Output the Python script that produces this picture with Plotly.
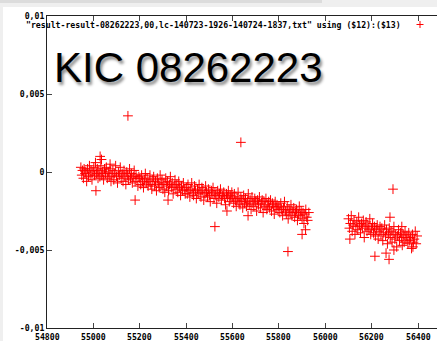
import plotly.graph_objects as go

# ---- data ----
x_a = [54946, 54950, 54953, 54957, 54960, 54964, 54968, 54971, 54975, 54979, 54983, 54986, 54990, 54994,
       54998, 55002, 55005, 55009, 55013, 55017, 55020, 55024, 55028, 55032, 55036, 55040, 55044, 55048]
y_a = [0.0003, -0.0002, 0.0001, -0.0004, 0.0002, -0.0001, 0.0000, -0.0006, 0.0002, -0.0003, 0.0004, -0.0002,
       0.0001, -0.0005, 0.0000, 0.0003, -0.0002, 0.0006, -0.0001, 0.0002, -0.0004, 0.0001, -0.0003, 0.0004,
       -0.0002, 0.0000, -0.0005, 0.0002]
x_b = [55052, 55056, 55060, 55064, 55068, 55072, 55076, 55080, 55084, 55088, 55092, 55096, 55100, 55104,
       55108, 55112, 55116, 55120, 55124, 55128, 55132, 55136, 55140, 55144, 55148, 55152, 55156, 55160,
       55164, 55168, 55172, 55176, 55180, 55184, 55188, 55192, 55196]
y_b = [-0.0001, 0.0003, -0.0004, 0.0000, -0.0003, 0.0002, -0.0006, -0.0002, 0.0001, -0.0005,
       -0.0001, 0.0004, -0.0003, -0.0007, 0.0000, -0.0002, 0.0003, -0.0004, -0.0001, -0.0006,
       0.0001, -0.0003, -0.0008, 0.0000, -0.0002, -0.0005, 0.0002, -0.0004, -0.0001, -0.0007,
       -0.0003, 0.0001, -0.0006, -0.0002, -0.0004, -0.0009, -0.0003]
x_c = [55200, 55204, 55208, 55212, 55216, 55220, 55224, 55228, 55232, 55236,
       55240, 55244, 55248, 55252, 55256, 55260, 55264, 55268, 55272, 55276,
       55280, 55284, 55288, 55292, 55296, 55300, 55304, 55308, 55312, 55316,
       55320, 55324, 55328, 55332, 55336, 55340, 55344, 55348, 55352, 55356,
       55360, 55364, 55368, 55372, 55376, 55380, 55384, 55388, 55392, 55396]
y_c = [-0.0004, -0.0008, -0.0002, -0.0006, -0.0010, -0.0005, -0.0001, -0.0007, -0.0004, -0.0009,
       -0.0006, -0.0002, -0.0008, -0.0011, -0.0005, -0.0003, -0.0009, -0.0006, -0.0012, -0.0004,
       -0.0007, -0.0010, -0.0002, -0.0008, -0.0005, -0.0011, -0.0007, -0.0013, -0.0004, -0.0009,
       -0.0006, -0.0012, -0.0008, -0.0003, -0.0010, -0.0007, -0.0014, -0.0009, -0.0005, -0.0011,
       -0.0008, -0.0013, -0.0006, -0.0010, -0.0015, -0.0009, -0.0012, -0.0007, -0.0011, -0.0014]
x_d = [55401, 55405, 55408, 55412, 55416, 55420, 55424, 55429, 55432, 55436,
       55440, 55444, 55449, 55452, 55456, 55460, 55464, 55468, 55472, 55476,
       55481, 55484, 55488, 55492, 55496, 55500, 55504, 55509, 55512, 55516,
       55520, 55524, 55528, 55532, 55536, 55541, 55544, 55548, 55552, 55556,
       55562, 55566, 55570, 55574, 55578, 55582, 55586, 55590, 55593, 55597]
y_d = [-0.0010, -0.0014, -0.0008, -0.0012, -0.0016, -0.0011, -0.0007, -0.0013, -0.0015, -0.0009,
       -0.0012, -0.0017, -0.0011, -0.0014, -0.0008, -0.0013, -0.0016, -0.0010, -0.0012, -0.0018,
       -0.0014, -0.0009, -0.0013, -0.0016, -0.0011, -0.0015, -0.0019, -0.0012, -0.0014, -0.0010,
       -0.0017, -0.0013, -0.0015, -0.0020, -0.0012, -0.0016, -0.0014, -0.0011, -0.0018, -0.0015,
       -0.0013, -0.0017, -0.0021, -0.0014, -0.0016, -0.0012, -0.0019, -0.0015, -0.0017, -0.0013]
x_e = [55601, 55605, 55608, 55612, 55616, 55620, 55624, 55628, 55632, 55636,
       55640, 55644, 55648, 55652, 55656, 55660, 55664, 55668, 55672, 55676,
       55680, 55684, 55688, 55692, 55696, 55700, 55704, 55708, 55712, 55716,
       55720, 55724, 55728, 55732, 55736, 55740, 55744, 55748, 55752, 55756,
       55760, 55764, 55768, 55772, 55776, 55780, 55784, 55788, 55792, 55796]
y_e = [-0.0016, -0.0020, -0.0014, -0.0018, -0.0022, -0.0017, -0.0013, -0.0019, -0.0021, -0.0016,
       -0.0018, -0.0023, -0.0015, -0.0020, -0.0017, -0.0022, -0.0019, -0.0014, -0.0021, -0.0018,
       -0.0024, -0.0016, -0.0020, -0.0022, -0.0017, -0.0019, -0.0025, -0.0018, -0.0021, -0.0016,
       -0.0023, -0.0020, -0.0018, -0.0026, -0.0019, -0.0022, -0.0017, -0.0024, -0.0021, -0.0019,
       -0.0023, -0.0018, -0.0025, -0.0020, -0.0022, -0.0027, -0.0019, -0.0023, -0.0021, -0.0024]
x_f = [55800, 55804, 55808, 55812, 55816, 55820, 55824, 55828, 55832, 55836,
       55840, 55844, 55848, 55852, 55856, 55860, 55864, 55868, 55872, 55876,
       55880, 55884, 55888, 55892, 55896, 55900, 55904, 55908, 55912, 55916,
       55920, 55924, 55929]
y_f = [-0.0022, -0.0026, -0.0020, -0.0024, -0.0028, -0.0023, -0.0019, -0.0025, -0.0027, -0.0022,
       -0.0030, -0.0024, -0.0026, -0.0021, -0.0028, -0.0025, -0.0023, -0.0029, -0.0026, -0.0024,
       -0.0031, -0.0027, -0.0022, -0.0028, -0.0025, -0.0030, -0.0026, -0.0033, -0.0027, -0.0024,
       -0.0029, -0.0031, -0.0026]
x_g = [56100, 56104, 56108, 56112, 56116, 56120, 56124, 56128, 56132, 56136,
       56140, 56144, 56148, 56152, 56156, 56160, 56164, 56168, 56172, 56176,
       56180, 56184, 56188, 56192, 56196, 56200, 56204, 56208, 56212, 56216,
       56220, 56224, 56228, 56232, 56236, 56240, 56244, 56248, 56252, 56256,
       56260, 56264, 56268, 56272, 56276, 56280, 56284, 56288, 56292, 56296,
       56300, 56304, 56308, 56312, 56316, 56320, 56324, 56328, 56332, 56336,
       56340, 56344, 56348, 56352, 56356, 56360, 56364, 56368, 56372, 56376,
       56380, 56384, 56388, 56392, 56396]
y_g = [-0.0030, -0.0036, -0.0033, -0.0028, -0.0038, -0.0034, -0.0031, -0.0040, -0.0035, -0.0032,
       -0.0037, -0.0029, -0.0034, -0.0039, -0.0033, -0.0036, -0.0031, -0.0042, -0.0035, -0.0032,
       -0.0038, -0.0034, -0.0037, -0.0030, -0.0040, -0.0036, -0.0033, -0.0039, -0.0035, -0.0041,
       -0.0037, -0.0034, -0.0043, -0.0038, -0.0035, -0.0040, -0.0036, -0.0044, -0.0039, -0.0034,
       -0.0041, -0.0037, -0.0046, -0.0040, -0.0036, -0.0042, -0.0038, -0.0045, -0.0039, -0.0035,
       -0.0043, -0.0040, -0.0048, -0.0041, -0.0037, -0.0044, -0.0039, -0.0042, -0.0047, -0.0040,
       -0.0045, -0.0038, -0.0043, -0.0041, -0.0046, -0.0039, -0.0044, -0.0042, -0.0049, -0.0040,
       -0.0045, -0.0043, -0.0038, -0.0046, -0.0041]
x_out = [55011, 55029, 55035, 55072, 55149, 55180, 55322, 55524, 55576, 55636, 55667, 55839,
         55900, 55915, 56106, 56214, 56262, 56275, 56279, 56292, 56296, 56330, 56378]
y_out = [-0.0012, 0.0010, 0.0008, 0.0005, 0.0036, -0.0018, -0.0018, -0.0035, -0.0025, 0.0019, -0.0028,
         -0.0051, -0.0040, -0.0037, -0.0043, -0.0054, -0.0052, -0.0056, -0.0029, -0.0011, -0.0050,
         -0.0035, -0.0048]

x_ticks = [54800, 55000, 55200, 55400, 55600, 55800, 56000, 56200, 56400]
y_ticks = [-0.01, -0.005, 0, 0.005, 0.01]
y_tick_text = ["-0,01", "-0,005", "0", "0,005", "0,01"]
key_text = '"result-result-08262223,00,lc-140723-1926-140724-1837,txt" using ($12):($13)'
big_label = "KIC 08262223"

xs = x_a + x_b + x_c + x_d + x_e + x_f + x_g + x_out
ys = y_a + y_b + y_c + y_d + y_e + y_f + y_g + y_out

# ---- layout geometry ----
W, H = 437, 341
ML, MR, MT, MB = 47, 0, 16, 13
PW, PH = W - ML - MR, H - MT - MB


def px(x):
    return (x - ML) / PW


def py(y):
    return (H - MB - y) / PH


mono = dict(family="DejaVu Sans Mono", size=8.2, color="black", weight="bold")

fig = go.Figure()
fig.add_trace(go.Scatter(
    x=xs, y=ys, mode="markers",
    marker=dict(symbol="cross-thin", size=7, color="red", line=dict(color="red", width=1.0)),
    showlegend=False, hoverinfo="skip", cliponaxis=False,
))

shapes = [
    dict(type="rect", xref="paper", yref="paper", x0=px(0), x1=px(W), y0=py(H), y1=py(0),
         fillcolor="#efefef", line=dict(width=0), layer="below"),
    dict(type="rect", xref="paper", yref="paper", x0=px(0), x1=px(322), y0=py(3), y1=py(0),
         fillcolor="#dcdcdc", line=dict(width=0), layer="below"),
    dict(type="rect", xref="paper", yref="paper", x0=px(3), x1=px(W), y0=py(H), y1=py(7),
         fillcolor="white", line=dict(width=0), layer="below"),
    dict(type="line", xref="paper", yref="paper", x0=px(416.5), x1=px(423.5), y0=py(24.5), y1=py(24.5),
         line=dict(color="red", width=1)),
    dict(type="line", xref="paper", yref="paper", x0=px(420), x1=px(420), y0=py(21), y1=py(28),
         line=dict(color="red", width=1)),
]

annotations = [
    dict(text=key_text, xref="paper", yref="paper", x=px(403), y=py(24.5), xanchor="right",
         yanchor="middle", showarrow=False, font=mono),
    dict(text=big_label, xref="paper", yref="paper", x=px(52), y=py(67),
         xanchor="left", yanchor="middle", showarrow=False,
         font=dict(family="Liberation Sans", size=42, color="black",
                   shadow="2px 3px 3px rgba(0,0,0,0.45)")),
]
# x tick labels placed just under the axis, as in the reference
for v in x_ticks:
    annotations.append(dict(text=str(v), xref="x", yref="paper", x=v, y=py(337.5),
                            xanchor="center", yanchor="middle", showarrow=False, font=mono))

fig.update_layout(
    width=W, height=H,
    margin=dict(l=ML, r=MR, t=MT, b=MB),
    paper_bgcolor="white", plot_bgcolor="white",
    shapes=shapes, annotations=annotations,
    xaxis=dict(range=[54800, 54800 + PW / 0.2319], tickvals=x_ticks, showticklabels=False,
               showgrid=False, zeroline=False, showline=True, linecolor="#222", linewidth=1,
               mirror="ticks", ticks="inside", ticklen=5, tickcolor="#444"),
    yaxis=dict(range=[-0.01, 0.01], tickvals=y_ticks, ticktext=y_tick_text,
               showgrid=False, zeroline=False, showline=True, linecolor="#222", linewidth=1,
               ticks="inside", ticklen=5, tickcolor="#444", tickfont=mono),
)

fig.write_html("out.html", config={"displayModeBar": False},
               post_script="document.body.style.margin='0';")
